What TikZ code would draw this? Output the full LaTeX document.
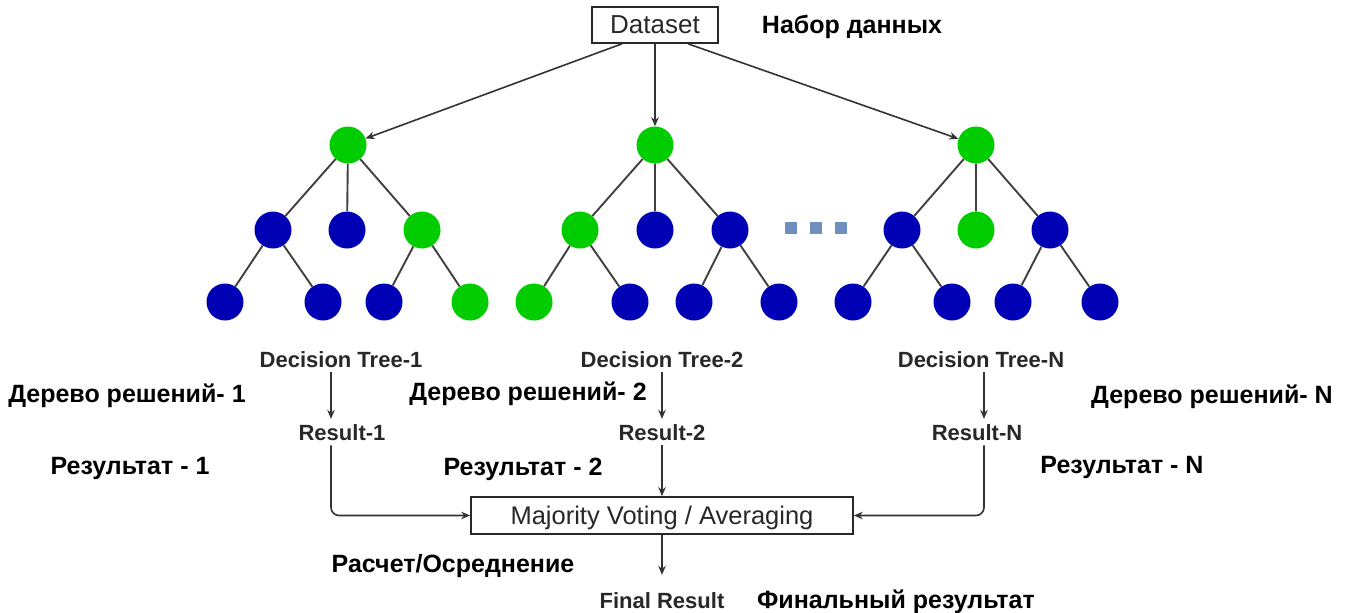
\documentclass[tikz,border=0pt]{standalone}
\usepackage{fontspec}
\setmainfont{Liberation Sans}
\usetikzlibrary{arrows.meta,calc}
\definecolor{tgreen}{RGB}{0,204,0}
\definecolor{tblue}{RGB}{0,0,180}
\definecolor{tline}{RGB}{64,64,64}
\definecolor{ttext}{RGB}{40,40,40}
\definecolor{tdots}{RGB}{111,143,192}
\begin{document}
\begin{tikzpicture}[x=1pt,y=-1pt,
  gnode/.style={circle,fill=tgreen,minimum size=37pt,inner sep=0pt},
  bnode/.style={circle,fill=tblue,minimum size=37pt,inner sep=0pt},
  edge/.style={draw=tline,line width=1.9pt},
  arr/.style={draw=black!80,line width=1.6pt,-{Stealth[length=9pt,width=7.5pt]}},
  boxnode/.style={draw=ttext,line width=1.6pt,text=ttext,inner sep=0pt,
    font=\fontsize{26}{30}\selectfont},
  ru/.style={anchor=base,font=\fontsize{25}{30}\selectfont\bfseries,text=black,inner sep=0pt},
  en/.style={anchor=base,font=\fontsize{22}{26}\selectfont\bfseries,text=ttext,inner sep=5pt},
  dotnode/.style={fill=tdots,minimum size=12pt,inner sep=0pt}
]
\useasboundingbox (0,0) rectangle (1355,613);
\fill[white] (0,0) rectangle (1355,613);

% dataset
\node[boxnode,minimum width=126pt,minimum height=36pt] (ds) at (655,25) {Dataset};
\node[ru] (dsru) at (852,33) {Набор данных};

% tree 1
\node[gnode] (a0) at (348,145) {};
\node[bnode] (a1) at (273,230) {};
\node[bnode] (a2) at (347,230) {};
\node[gnode] (a3) at (422,230) {};
\node[bnode] (a4) at (225,302) {};
\node[bnode] (a5) at (323,302) {};
\node[bnode] (a6) at (384,302) {};
\node[gnode] (a7) at (470,302) {};
\draw[edge] (a0)--(a1) (a0)--(a2) (a0)--(a3) (a1)--(a4) (a1)--(a5) (a3)--(a6) (a3)--(a7);

% tree 2
\node[gnode] (b0) at (655,145) {};
\node[gnode] (b1) at (580,230) {};
\node[bnode] (b2) at (655,230) {};
\node[bnode] (b3) at (730,230) {};
\node[gnode] (b4) at (534,302) {};
\node[bnode] (b5) at (630,302) {};
\node[bnode] (b6) at (694,302) {};
\node[bnode] (b7) at (779,302) {};
\draw[edge] (b0)--(b1) (b0)--(b2) (b0)--(b3) (b1)--(b4) (b1)--(b5) (b3)--(b6) (b3)--(b7);

% dots
\node[dotnode] (d1) at (791,228) {};
\node[dotnode] (d2) at (816,228) {};
\node[dotnode] (d3) at (841,228) {};

% tree N
\node[gnode] (c0) at (976,145) {};
\node[bnode] (c1) at (902,230) {};
\node[gnode] (c2) at (976,230) {};
\node[bnode] (c3) at (1050,230) {};
\node[bnode] (c4) at (853,302) {};
\node[bnode] (c5) at (952,302) {};
\node[bnode] (c6) at (1013,302) {};
\node[bnode] (c7) at (1100,302) {};
\draw[edge] (c0)--(c1) (c0)--(c2) (c0)--(c3) (c1)--(c4) (c1)--(c5) (c3)--(c6) (c3)--(c7);

% dataset arrows
\draw[arr] ($(ds.south)+(-33,0)$) -- (a0);
\draw[arr] ($(ds.south)+(0,0)$) -- (b0);
\draw[arr] ($(ds.south)+(33,0)$) -- (c0);

% labels
\coordinate (k1) at (331,0);
\coordinate (k2) at (662,0);
\coordinate (k3) at (984,0);
\node[en] (dt1) at (341,367) {Decision Tree-1};
\node[en] (dt2) at (662,367) {Decision Tree-2};
\node[en] (dt3) at (981,367) {Decision Tree-N};
\node[en] (r1) at (342,440) {Result-1};
\node[en] (r2) at (662,440) {Result-2};
\node[en] (r3) at (977,440) {Result-N};
\node[ru] (dr1) at (127,402) {Дерево решений- 1};
\node[ru] (dr2) at (528,400) {Дерево решений- 2};
\node[ru] (dr3) at (1212,403) {Дерево решений- N};
\node[ru] (rr1) at (130,474) {Результат - 1};
\node[ru] (rr2) at (523,475) {Результат - 2};
\node[ru] (rr3) at (1122,473) {Результат - N};

\draw[arr] (dt1.south -| k1) -- (r1.north -| k1);
\draw[arr] (dt2.south -| k2) -- (r2.north -| k2);
\draw[arr] (dt3.south -| k3) -- (r3.north -| k3);

% majority box
\node[boxnode,minimum width=382pt,minimum height=37pt,text depth=0pt,
  font=\fontsize{25.5}{30}\selectfont] (mv) at (662,515.5) {Majority Voting / Averaging};
\draw[arr,rounded corners=8pt] (r1.south -| k1) |- (mv.west);
\draw[arr] (r2.south -| k2) -- (mv.north -| k2);
\draw[arr,rounded corners=8pt] (r3.south -| k3) |- (mv.east);

\node[ru] (calc) at (453,572) {Расчет/Осреднение};
\node[en] (fr) at (662,608) {Final Result};
\node[ru] (frru) at (896,608) {Финальный результат};
\draw[arr,shorten >=12pt] (mv.south) -- (fr.north);
\end{tikzpicture}
\end{document}
